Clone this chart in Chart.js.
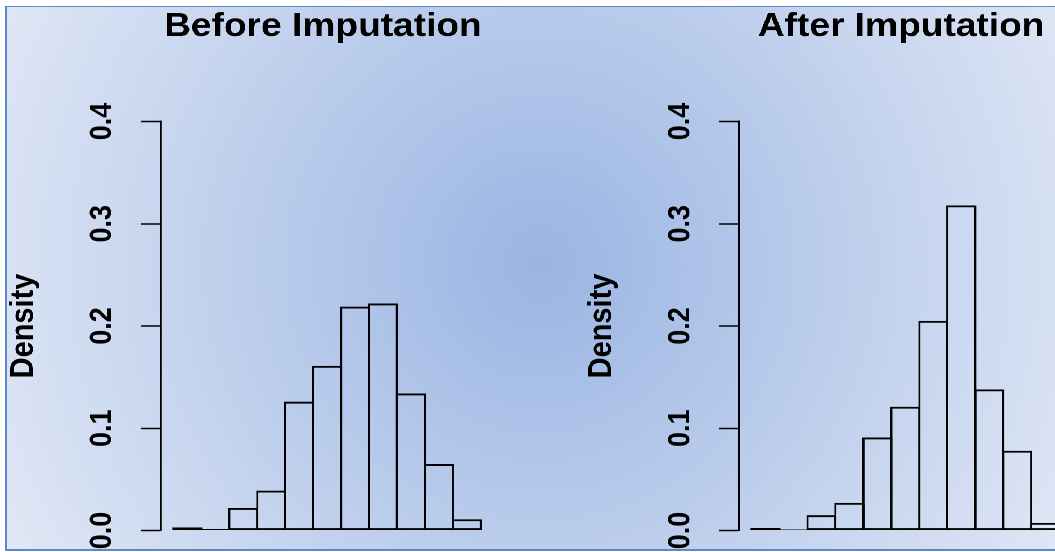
<!DOCTYPE html>
<html>
<head>
<meta charset="utf-8">
<script src="https://cdn.jsdelivr.net/npm/chart.js@4.4.1/dist/chart.umd.min.js"></script>
<style>
  html, body { margin: 0; padding: 0; background: #fff; overflow: hidden; }
  body { width: 1055px; height: 552px; position: relative; }
  /* slide frame with the blue radial fill */
  #frame {
    position: absolute; left: 5px; top: 6px; width: 1100px; height: 542px;
    border: 2px solid #5b88c8; border-top-width: 1.5px;
    background: radial-gradient(circle 600px at 533px 257px, #9ab5e3 0%, #e0e7f5 100%);
  }
  /* the picture is a little wider than tall in its glyphs, so stretch the stage */
  #stage {
    position: absolute; left: 0; top: 0; width: 938px; height: 550px;
    overflow: hidden; transform: scaleX(1.125); transform-origin: 0 0;
  }
  .panel { position: absolute; top: 0; }
</style>
</head>
<body>
<div id="frame"></div>
<div id="stage">
  <div class="panel" style="left:0px"><canvas id="before" width="574" height="550"></canvas></div>
  <div class="panel" style="left:513.5px"><canvas id="after" width="574" height="550"></canvas></div>
</div>
<script>
// histogram bins (index units) and densities
const binMids = [0.5, 1.5, 2.5, 3.5, 4.5, 5.5, 6.5, 7.5, 8.5, 9.5, 10.5];
const beforeDensity = [0.003, 0.0015, 0.022, 0.039, 0.126, 0.161, 0.219, 0.222, 0.134, 0.065, 0.011];
const afterDensity = [0.0025, 0.001, 0.015, 0.027, 0.091, 0.121, 0.205, 0.318, 0.138, 0.078, 0.0075];
const yTicks = [0, 0.1, 0.2, 0.3, 0.4];
const titles = ["Before Imputation", "After Imputation"];
const yLabel = "Density";

const FONT = '"Liberation Sans", Arial, Helvetica, sans-serif';
const AXIS_W = 143.1;   // room left of the plot for labels
const BAR_LINE = 1.9;

// R-style tick labels, parallel to the axis
const rotatedTicks = {
    id: 'rotatedTicks',
    afterDraw(chart) {
        const s = chart.scales.y;
        const ctx = chart.ctx;
        ctx.save();
        ctx.font = 'bold 27px ' + FONT;
        ctx.fillStyle = '#000';
        ctx.textAlign = 'center';
        ctx.textBaseline = 'middle';
        s.ticks.forEach(t => {
            ctx.save();
            ctx.translate(s.right - 52.3, s.getPixelForValue(t.value));
            ctx.rotate(-Math.PI / 2);
            ctx.fillText(t.label, 0, 0);
            ctx.restore();
        });
        ctx.restore();
    }
};

function makePanel(id, title, values) {
    return new Chart(document.getElementById(id), {
        type: 'bar',
        data: {
            datasets: [{
                data: binMids.map((x, i) => ({ x: x, y: values[i] })),
                backgroundColor: 'rgba(0,0,0,0)',
                borderColor: '#000',
                borderWidth: BAR_LINE,
                borderSkipped: false,
                // overlap by one line width so shared edges stay single
                barPercentage: 1 + BAR_LINE / 24.85,
                categoryPercentage: 1
            }]
        },
        options: {
            responsive: false,
            animation: false,
            devicePixelRatio: 2,
            layout: { padding: { top: 0, left: 0, right: 0, bottom: 19.5 } },
            plugins: {
                legend: { display: false },
                tooltip: { enabled: false },
                title: {
                    display: true,
                    text: title,
                    color: '#000',
                    font: { family: FONT, size: 33, weight: 'bold' },
                    padding: { top: 7, bottom: 74.9 }
                }
            },
            scales: {
                x: {
                    type: 'linear',
                    min: -0.44,
                    max: 16.9,
                    offset: false,
                    display: false
                },
                y: {
                    min: yTicks[0],
                    max: yTicks[yTicks.length - 1],
                    afterBuildTicks: s => { s.ticks = yTicks.map(v => ({ value: v })); },
                    ticks: { display: false, callback: v => v.toFixed(1) },
                    grid: {
                        drawOnChartArea: false,
                        drawTicks: true,
                        tickLength: 17.8,
                        tickWidth: 1.6,
                        tickColor: '#000'
                    },
                    border: { display: true, color: '#000', width: 1.9 },
                    title: {
                        display: true,
                        text: yLabel,
                        color: '#000',
                        font: { family: FONT, size: 29, weight: 'bold' },
                        padding: { top: 3.5, bottom: 0 }
                    },
                    afterFit: s => { s.width = AXIS_W; }
                }
            }
        },
        plugins: [rotatedTicks]
    });
}

makePanel('before', titles[0], beforeDensity);
makePanel('after', titles[1], afterDensity);
</script>
</body>
</html>
